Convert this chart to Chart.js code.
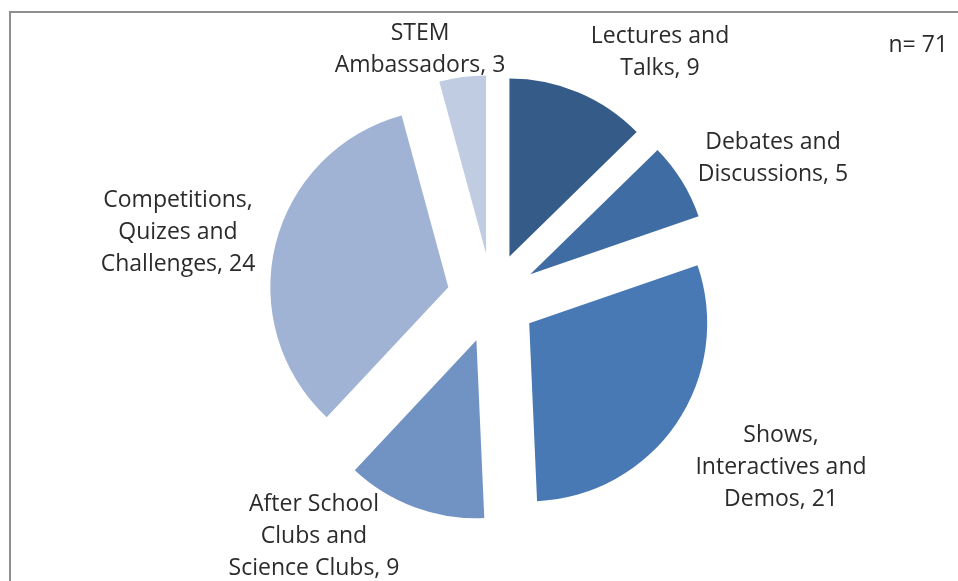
<!DOCTYPE html>
<html>
<head>
<meta charset="utf-8">
<script src="https://cdn.jsdelivr.net/npm/chart.js@4/dist/chart.umd.min.js"></script>
<style>
  html, body { margin: 0; padding: 0; background: #ffffff; }
  #wrap { position: relative; width: 958px; height: 581px; overflow: hidden; }
  #frame { position: absolute; left: 9px; top: 11px; width: 1200px; height: 900px; border: 2px solid #8e8e8e; }
  #chart { position: absolute; left: 0; top: 0; }
</style>
</head>
<body>
<div id="wrap">
  <div id="frame"></div>
  <canvas id="chart" width="958" height="581"></canvas>
</div>
<script>
const categories = [
	['Lectures and', 'Talks'],
	['Debates and', 'Discussions'],
	['Shows,', 'Interactives and', 'Demos'],
	['After School', 'Clubs and', 'Science Clubs'],
	['Competitions,', 'Quizes and', 'Challenges'],
	['STEM', 'Ambassadors']
];
const counts = [9, 5, 21, 9, 24, 3];
const sampleSize = 71;

const colors = ['#355b88', '#3f6ca2', '#4879b4', '#7193c4', '#a0b3d4', '#bfcce2'];

// where each label block is centred (px on the canvas)
const labelAnchors = [[660, 52], [773, 158], [781, 467], [314, 536], [178, 232], [420, 49]];

const explode = 45;

// pull every slice out from the centre by the same distance
const explodePlugin = {
	id: 'explode',
	beforeDatasetsDraw(chart) {
		const area = chart.chartArea;
		const cx = (area.left + area.right) / 2;
		const cy = (area.top + area.bottom) / 2;
		chart.getDatasetMeta(0).data.forEach(arc => {
			const mid = (arc.startAngle + arc.endAngle) / 2;
			arc.x = cx + Math.cos(mid) * explode;
			arc.y = cy + Math.sin(mid) * explode;
		});
	}
};

const labelPlugin = {
	id: 'sliceLabels',
	afterDatasetsDraw(chart) {
		const ctx = chart.ctx;
		ctx.save();
		ctx.font = '23px "Open Sans"';
		ctx.fillStyle = '#2b2b2b';
		ctx.textAlign = 'center';
		ctx.textBaseline = 'middle';
		const lineH = 32;
		categories.forEach((lines, i) => {
			const txt = lines.slice();
			txt[txt.length - 1] = txt[txt.length - 1] + ', ' + counts[i];
			const [x, y] = labelAnchors[i];
			const top = y - (txt.length - 1) * lineH / 2;
			txt.forEach((t, j) => ctx.fillText(t, x, top + j * lineH));
		});
		ctx.textAlign = 'right';
		ctx.fillText('n= ' + sampleSize, 948, 45);
		ctx.restore();
	}
};

new Chart(
	document.getElementById('chart'),
	{
		type: 'pie',
		data: {
			labels: categories.map(l => l.join(' ')),
			datasets: [
				{
					data: counts,
					backgroundColor: colors,
					borderWidth: 0,
				}
			]
		},
		options: {
			responsive: false,
			animation: false,
			radius: 178,
			layout: { padding: { left: 26, right: 0, top: 15, bottom: 0 } },
			plugins: {
				legend: { display: false },
				tooltip: { enabled: false },
			}
		},
		plugins: [explodePlugin, labelPlugin]
	}
);
</script>
</body>
</html>
